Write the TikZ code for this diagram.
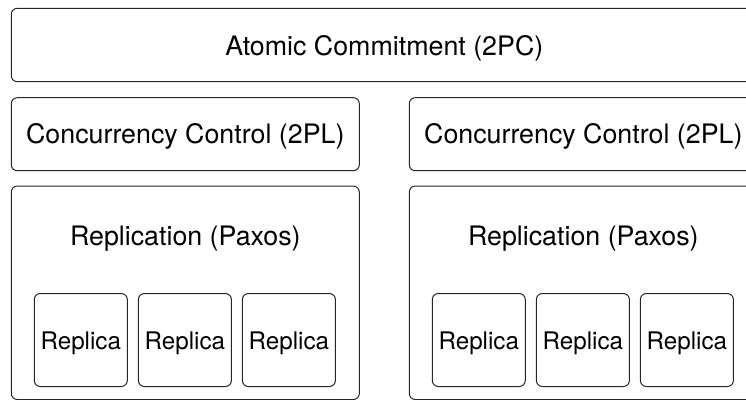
\documentclass[tikz,border=0pt]{standalone}
\usepackage{fontspec}
\setmainfont{TeX Gyre Heros}
\begin{document}
\begin{tikzpicture}[x=1pt,y=-1pt,
  frame/.style={draw=black!85, line width=1pt, rounded corners=6pt,
                inner sep=0pt, outer sep=0pt},
  layerbox/.style={frame, minimum width=348pt, minimum height=73pt},
  replbox/.style={frame, minimum width=348pt, minimum height=213.5pt},
  replica/.style={frame, minimum width=93pt, minimum height=93pt},
  biglabel/.style={anchor=base, inner sep=0pt, font=\fontsize{26.8}{30}\selectfont},
  smalllabel/.style={anchor=base, inner sep=0pt, font=\fontsize{24.2}{28}\selectfont}]
  \useasboundingbox (0,0) rectangle (746,399);
  \clip (0,0) rectangle (746,399);

  % commit layer spanning both shards
  \node[frame, minimum width=746pt, minimum height=73.4pt] (commit) at (384.3,45) {};
  \node[biglabel] (commitlbl) at (384.3,55.5) {Atomic Commitment (2PC)};

  % two shards, each with concurrency control over a Paxos group
  \foreach \s/\dx in {a/0, b/398} {
    \node[layerbox] (cc\s) at (185.3+\dx,134.2) {};
    \node[biglabel] (cc\s lbl) at (185.3+\dx,143.5) {Concurrency Control (2PL)};
    \node[replbox] (rep\s) at (185.3+\dx,292.75) {};
    \node[biglabel] (rep\s lbl) at (185.3+\dx,245) {Replication (Paxos)};
    \foreach \i/\x in {1/80.8, 2/184.9, 3/288.9} {
      \node[replica] (r\s\i) at (\x+\dx,340) {};
      \node[smalllabel] (r\s\i lbl) at (\x+\dx,349) {Replica};
    }
  }
\end{tikzpicture}
\end{document}
